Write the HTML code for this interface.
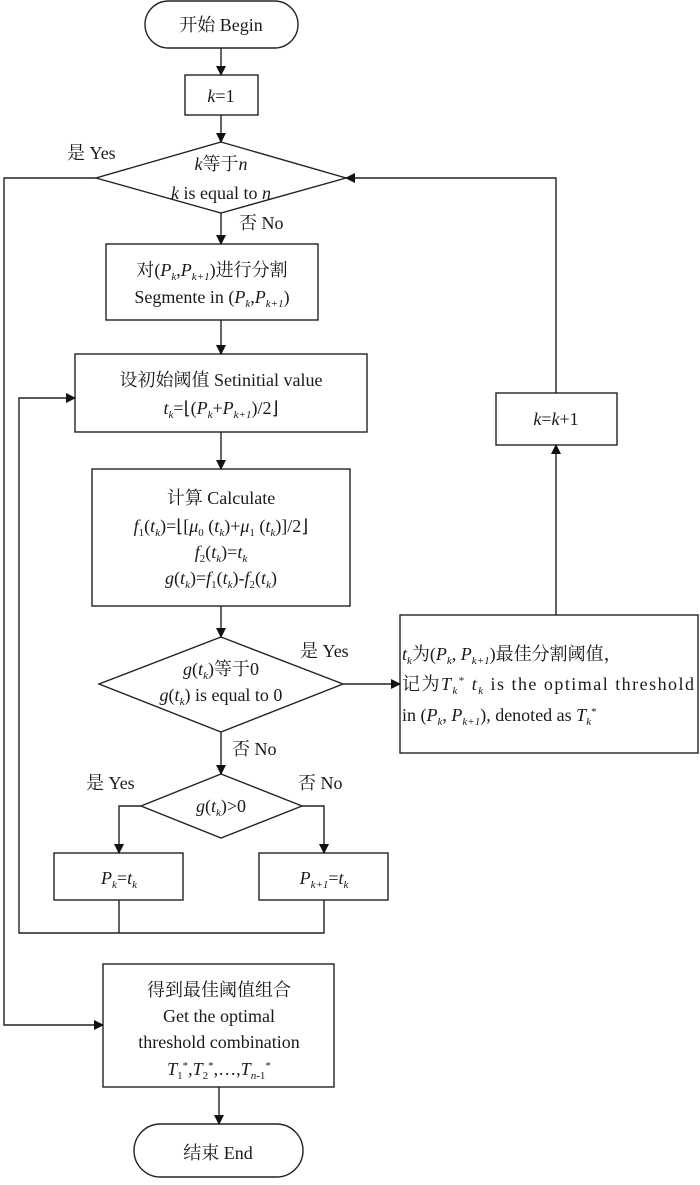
<!DOCTYPE html>
<html><head><meta charset="utf-8"><style>
body{margin:0;background:#fff;}
svg text{font-family:"Liberation Serif","Noto Serif CJK SC",serif;font-size:18px;fill:#1a1a1a;}
.i{font-style:italic}
</style></head><body>
<svg width="700" height="1180" viewBox="0 0 700 1180" xmlns="http://www.w3.org/2000/svg">
<defs><marker id="a" markerWidth="10" markerHeight="10" refX="9" refY="5" orient="auto" markerUnits="userSpaceOnUse"><path d="M0,0 L10,5 L0,10 z" fill="#111"/></marker></defs>
<g fill="none" stroke="#222" stroke-width="1.4">
<rect x="145" y="1" width="153" height="47" rx="23.5"/>
<rect x="185" y="75" width="73" height="40"/>
<polygon points="221,142 346,178 221,213 96,178"/>
<rect x="106" y="244" width="212" height="76"/>
<rect x="75" y="354" width="292" height="78"/>
<rect x="92" y="469" width="258" height="137"/>
<polygon points="221,637 343,684 221,732 99,684"/>
<rect x="400" y="615" width="298" height="138"/>
<rect x="496" y="393" width="121" height="52"/>
<polygon points="221,774 302,806 221,838 141,806"/>
<rect x="54" y="853" width="129" height="47"/>
<rect x="259" y="853" width="129" height="47"/>
<rect x="103" y="964" width="231" height="123"/>
<rect x="134" y="1124" width="169" height="53" rx="26.5"/>
<line x1="221" y1="48" x2="221" y2="75" marker-end="url(#a)"/>
<line x1="221" y1="115" x2="221" y2="142" marker-end="url(#a)"/>
<line x1="221" y1="213" x2="221" y2="244" marker-end="url(#a)"/>
<line x1="221" y1="320" x2="221" y2="354" marker-end="url(#a)"/>
<line x1="221" y1="432" x2="221" y2="469" marker-end="url(#a)"/>
<line x1="221" y1="606" x2="221" y2="637" marker-end="url(#a)"/>
<line x1="221" y1="732" x2="221" y2="774" marker-end="url(#a)"/>
<line x1="343" y1="684" x2="400" y2="684" marker-end="url(#a)"/>
<line x1="556" y1="615" x2="556" y2="445" marker-end="url(#a)"/>
<polyline points="556,393 556,178 346,178" marker-end="url(#a)"/>
<polyline points="96,178 4,178 4,1025 103,1025" marker-end="url(#a)"/>
<polyline points="141,806 119,806 119,853" marker-end="url(#a)"/>
<polyline points="302,806 324,806 324,853" marker-end="url(#a)"/>
<polyline points="119,900 119,933"/>
<polyline points="324,900 324,933 19,933 19,398 75,398" marker-end="url(#a)"/>
<line x1="219" y1="1087" x2="219" y2="1124" marker-end="url(#a)"/>
</g>
<g text-anchor="middle">
<text x="221" y="31" font-size="19">开始  Begin</text>
<text x="221" y="102"><tspan class="i">k</tspan>=1</text>
<text x="221" y="170"><tspan class="i">k</tspan>等于<tspan class="i">n</tspan></text>
<text x="221" y="199"><tspan class="i">k</tspan> is equal to <tspan class="i">n</tspan></text>
<text x="212" y="276">对(<tspan class="i">P<tspan font-size="11" dy="4">k</tspan></tspan><tspan dy="-4">,</tspan><tspan class="i">P<tspan font-size="11" dy="4">k+1</tspan></tspan><tspan dy="-4">)进行分割</tspan></text>
<text x="212" y="303">Segmente in (<tspan class="i">P<tspan font-size="11" dy="4">k</tspan></tspan><tspan dy="-4">,</tspan><tspan class="i">P<tspan font-size="11" dy="4">k+1</tspan></tspan><tspan dy="-4">)</tspan></text>
<text x="221" y="386">设初始阈值  Setinitial value</text>
<text x="221" y="414"><tspan class="i">t<tspan font-size="11" dy="4">k</tspan></tspan><tspan dy="-4">=⌊(</tspan><tspan class="i">P<tspan font-size="11" dy="4">k</tspan></tspan><tspan dy="-4">+</tspan><tspan class="i">P<tspan font-size="11" dy="4">k+1</tspan></tspan><tspan dy="-4">)/2⌋</tspan></text>
<text x="221" y="504">计算  Calculate</text>
<text x="221" y="532"><tspan class="i">f</tspan><tspan font-size="11" dy="4">1</tspan><tspan dy="-4">(</tspan><tspan class="i">t<tspan font-size="11" dy="4">k</tspan></tspan><tspan dy="-4">)=⌊[</tspan><tspan class="i">μ</tspan><tspan font-size="11" dy="4">0</tspan><tspan dy="-4"> (</tspan><tspan class="i">t<tspan font-size="11" dy="4">k</tspan></tspan><tspan dy="-4">)+</tspan><tspan class="i">μ</tspan><tspan font-size="11" dy="4">1</tspan><tspan dy="-4"> (</tspan><tspan class="i">t<tspan font-size="11" dy="4">k</tspan></tspan><tspan dy="-4">)]/2⌋</tspan></text>
<text x="221" y="558"><tspan class="i">f</tspan><tspan font-size="11" dy="4">2</tspan><tspan dy="-4">(</tspan><tspan class="i">t<tspan font-size="11" dy="4">k</tspan></tspan><tspan dy="-4">)=</tspan><tspan class="i">t<tspan font-size="11" dy="4">k</tspan></tspan></text>
<text x="221" y="584"><tspan class="i">g</tspan>(<tspan class="i">t<tspan font-size="11" dy="4">k</tspan></tspan><tspan dy="-4">)=</tspan><tspan class="i">f</tspan><tspan font-size="11" dy="4">1</tspan><tspan dy="-4">(</tspan><tspan class="i">t<tspan font-size="11" dy="4">k</tspan></tspan><tspan dy="-4">)-</tspan><tspan class="i">f</tspan><tspan font-size="11" dy="4">2</tspan><tspan dy="-4">(</tspan><tspan class="i">t<tspan font-size="11" dy="4">k</tspan></tspan><tspan dy="-4">)</tspan></text>
<text x="221" y="675"><tspan class="i">g</tspan>(<tspan class="i">t<tspan font-size="11" dy="4">k</tspan></tspan><tspan dy="-4">)等于0</tspan></text>
<text x="221" y="701"><tspan class="i">g</tspan>(<tspan class="i">t<tspan font-size="11" dy="4">k</tspan></tspan><tspan dy="-4">) is equal to 0</tspan></text>
<text x="221" y="812"><tspan class="i">g</tspan>(<tspan class="i">t<tspan font-size="11" dy="4">k</tspan></tspan><tspan dy="-4">)&gt;0</tspan></text>
<text x="556" y="425"><tspan class="i">k</tspan>=<tspan class="i">k</tspan>+1</text>
<text x="119" y="884"><tspan class="i">P<tspan font-size="11" dy="4">k</tspan></tspan><tspan dy="-4">=</tspan><tspan class="i">t<tspan font-size="11" dy="4">k</tspan></tspan></text>
<text x="324" y="884"><tspan class="i">P<tspan font-size="11" dy="4">k+1</tspan></tspan><tspan dy="-4">=</tspan><tspan class="i">t<tspan font-size="11" dy="4">k</tspan></tspan></text>
<text x="219" y="996">得到最佳阈值组合</text>
<text x="219" y="1022">Get the optimal</text>
<text x="219" y="1048">threshold combination</text>
<text x="219" y="1075"><tspan class="i">T</tspan><tspan font-size="11" dy="4">1</tspan><tspan font-size="11" dy="-10">*</tspan><tspan dy="6">,</tspan><tspan class="i">T</tspan><tspan font-size="11" dy="4">2</tspan><tspan font-size="11" dy="-10">*</tspan><tspan dy="6">,…,</tspan><tspan class="i">T</tspan><tspan font-size="11" dy="4"><tspan class="i">n</tspan>-1</tspan><tspan font-size="11" dy="-10">*</tspan></text>
<text x="218" y="1159" font-size="19">结束  End</text>
</g>
<text x="402" y="660"><tspan class="i">t<tspan font-size="11" dy="4">k</tspan></tspan><tspan dy="-4">为(</tspan><tspan class="i">P<tspan font-size="11" dy="4">k</tspan></tspan><tspan dy="-4">, </tspan><tspan class="i">P<tspan font-size="11" dy="4">k+1</tspan></tspan><tspan dy="-4">)最佳分割阈值，</tspan></text>
<text x="402" y="690" textLength="292">记为<tspan class="i">T<tspan font-size="11" dy="4">k</tspan></tspan><tspan font-size="11" dy="-10">*</tspan><tspan dy="6"> </tspan><tspan class="i">t<tspan font-size="11" dy="4">k</tspan></tspan><tspan dy="-4"> is the optimal threshold</tspan></text>
<text x="402" y="721">in (<tspan class="i">P<tspan font-size="11" dy="4">k</tspan></tspan><tspan dy="-4">, </tspan><tspan class="i">P<tspan font-size="11" dy="4">k+1</tspan></tspan><tspan dy="-4">), denoted as </tspan><tspan class="i">T<tspan font-size="11" dy="4">k</tspan></tspan><tspan font-size="11" dy="-10">*</tspan></text>
<text x="67" y="159">是 Yes</text>
<text x="239" y="229">否 No</text>
<text x="300" y="657">是 Yes</text>
<text x="232" y="755">否 No</text>
<text x="86" y="789">是 Yes</text>
<text x="298" y="789">否 No</text>
</svg>
</body></html>
